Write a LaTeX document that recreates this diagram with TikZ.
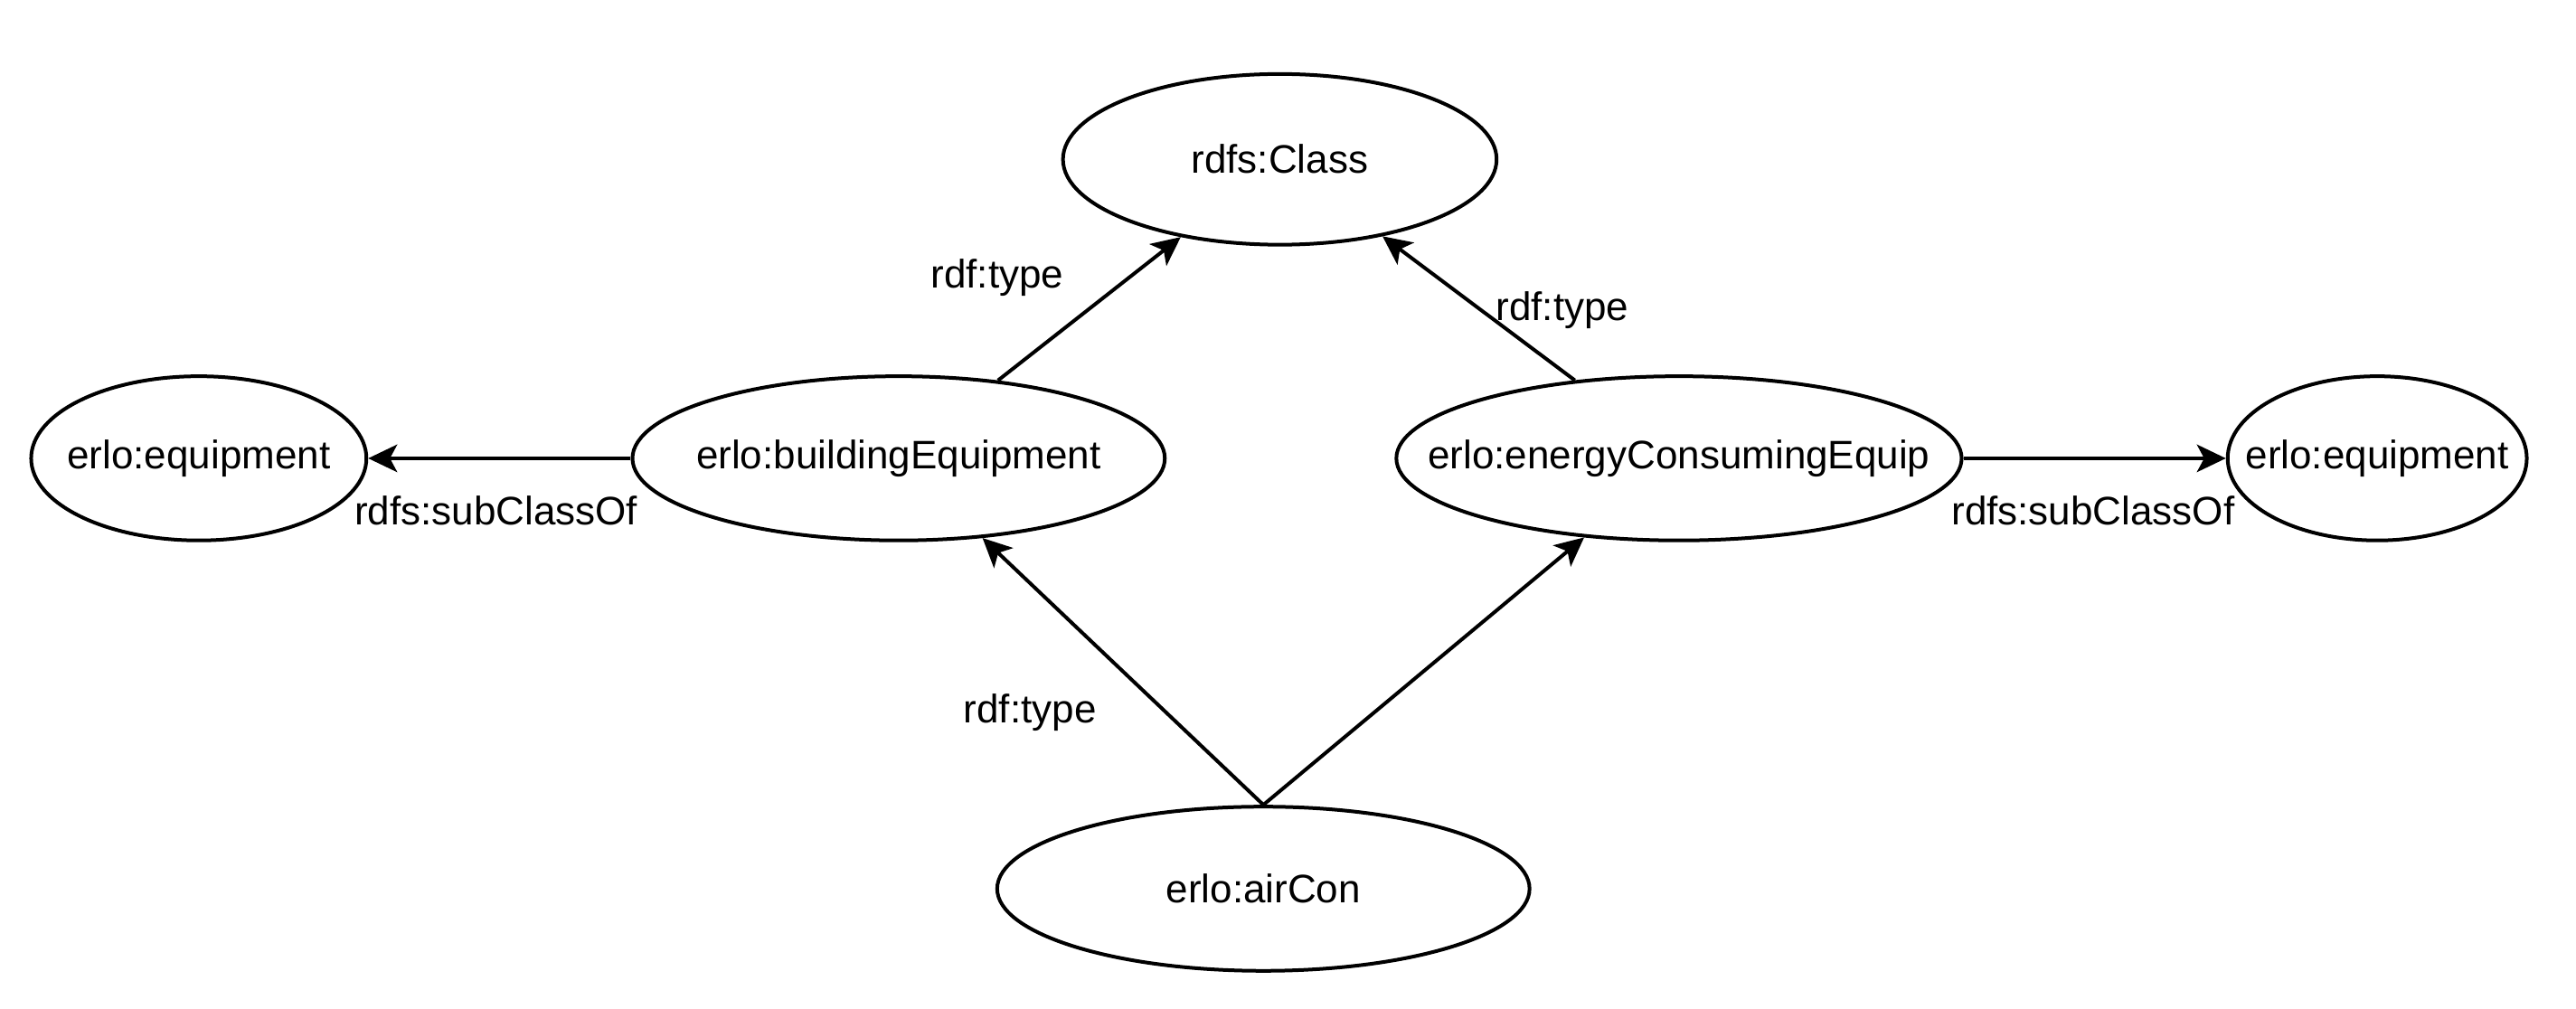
\documentclass[tikz,border=0pt]{standalone}
\usepackage{fontspec}
\setmainfont{Liberation Sans}
\usetikzlibrary{shapes.geometric,arrows.meta}
\newcommand{\zb}[1]{\makebox[0pt][c]{\raisebox{-0.9pt}{#1}}}
\begin{document}
\begin{tikzpicture}[x=0.45425pt,y=-0.45425pt,
  ent/.style={ellipse,draw,line width=1pt,inner sep=0pt,minimum height=45.4pt,font=\fontsize{11pt}{13pt}\selectfont},
  lbl/.style={inner sep=0pt,font=\fontsize{11pt}{13pt}\selectfont},
  rel/.style={line width=1pt,-{Stealth[length=8pt,width=7.6pt,inset=2pt]}}]
\useasboundingbox[fill=white] (0,0) rectangle (1568,614);
\node[ent,minimum width=119.9pt,minimum height=47.2pt] (cls) at (779,97) {\zb{rdfs:Class}};
\node[ent,minimum width=92.7pt] (eqL) at (121,279) {\zb{erlo:equipment}};
\node[ent,minimum width=147.2pt] (bldg) at (547,279) {\zb{erlo:buildingEquipment}};
\node[ent,minimum width=156.3pt] (energy) at (1022,279) {\zb{erlo:energyConsumingEquip}};
\node[ent,minimum width=82.7pt] (eqR) at (1447,279) {\zb{erlo:equipment}};
\node[ent,minimum width=147.2pt] (air) at (769,541) {\zb{erlo:airCon}};
\draw[rel] (bldg) -- (cls);
\draw[rel] (energy) -- (cls);
\draw[rel] (bldg.west) -- (eqL.east);
\draw[rel] (energy.east) -- (eqR.west);
\draw[rel] (air.north) -- (bldg);
\draw[rel] (air.north) -- (energy);
\node[lbl] (l1) at (607,169) {rdf:type};
\node[lbl] (l2) at (951,189) {rdf:type};
\node[lbl] (l3) at (302,311) {rdfs:subClassOf};
\node[lbl] (l4) at (1274,311) {rdfs:subClassOf};
\node[lbl] (l5) at (627,434) {rdf:type};
\end{tikzpicture}
\end{document}
